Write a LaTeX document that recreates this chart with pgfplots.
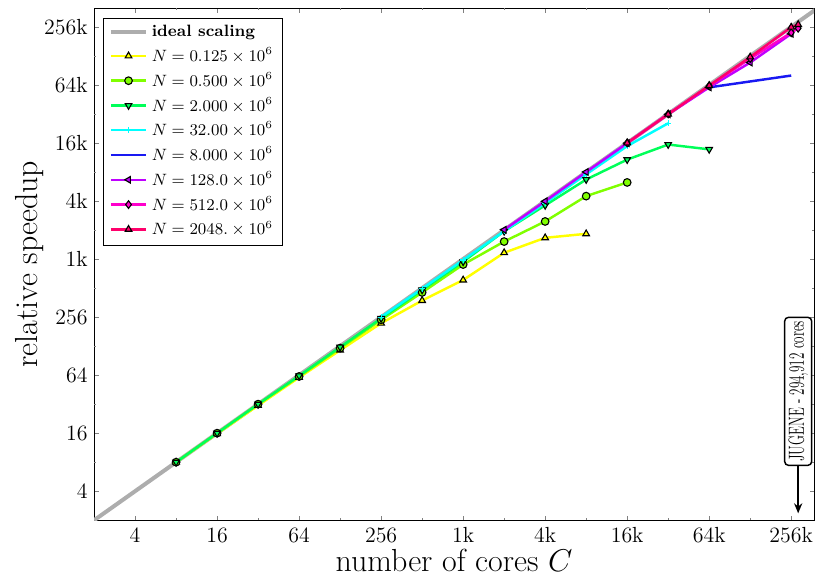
\documentclass[border=0pt]{standalone}
\usepackage{pgfplots}
\pgfplotsset{compat=1.18}
\usepackage{graphicx}
\usetikzlibrary{arrows.meta}

\definecolor{cideal}{gray}{0.68}
\definecolor{cA}{rgb}{1,1,0}
\definecolor{cB}{rgb}{0.5,1,0}
\definecolor{cC}{rgb}{0,1,0.35}
\definecolor{cD}{rgb}{0,1,1}
\definecolor{cE}{rgb}{0.1,0.1,0.95}
\definecolor{cF}{rgb}{0.75,0,1}
\definecolor{cG}{rgb}{1,0,0.8}
\definecolor{cH}{rgb}{1,0,0.42}

\begin{document}
\begin{tikzpicture}
\begin{axis}[
    scale only axis,
    width=395pt, height=281pt,
    xmode=log, ymode=log, log basis x=2, log basis y=2,
    xmin=2, xmax=386000, ymin=2, ymax=411000,
    xtick={4,16,64,256,1024,4096,16384,65536,262144},
    xticklabels={4,16,64,256,1k,4k,16k,64k,256k},
    extra x ticks={8,32,128,512,2048,8192,32768,131072},
    extra x tick labels={},
    extra x tick style={major tick length=1.3pt},
    ytick={4,16,64,256,1024,4096,16384,65536,262144},
    yticklabels={4,16,64,256,1k,4k,16k,64k,256k},
    extra y ticks={8,32,128,512,2048,8192,32768,131072},
    extra y tick labels={},
    extra y tick style={major tick length=1.3pt},
    major tick length=2.5pt,
    xtick pos=both, ytick pos=both,
    tick label style={font=\large},
    xticklabel style={inner ysep=1.2pt, yshift=-2.6pt},
    xlabel={number of cores $C$},
    ylabel={relative speedup},
    label style={font=\fontsize{17.5}{21}\selectfont, inner sep=0pt},
    xlabel style={at={(axis description cs:0.5,0)}, anchor=center, yshift=-22pt},
    ylabel style={at={(axis description cs:0,0.5)}, anchor=center, yshift=35.5pt},
    legend style={at={(0.0125,0.981)}, anchor=north west, font=\small,
        draw=black, row sep=0.4pt},
    legend cell align=left,
    legend image code/.code={\draw[mark repeat=2,mark phase=2]
        plot coordinates {(0cm,0cm) (0.34cm,0cm) (0.68cm,0cm)};},
    every axis plot/.append style={line width=1.35pt},
    mark size=2.1pt,
]

% ideal scaling
\addplot[cideal, line width=2.2pt] coordinates {(2,2) (411000,411000)};
\addlegendentry{\textbf{ideal scaling}}

% N = 0.125e6
\addplot[cA, mark=triangle*, mark options={fill=cA, draw=black, line width=0.6pt}] coordinates {
(8,8) (16,15.8) (32,31) (64,60.5) (128,116) (256,221) (512,380)
(1024,620) (2048,1190) (4096,1700) (8192,1870)};
\addlegendentry{$N=0.125\times10^6$}

% N = 0.500e6
\addplot[cB, mark=*, mark options={fill=cB, draw=black, line width=0.6pt}] coordinates {
(8,8) (16,16) (32,32) (64,62) (128,122) (256,240) (512,461)
(1024,898) (2048,1554) (4096,2512) (8192,4600) (16384,6380)};
\addlegendentry{$N=0.500\times10^6$}

% N = 2.000e6
\addplot[cC, mark=triangle*, mark options={rotate=180, fill=cC, draw=black, line width=0.6pt}] coordinates {
(8,8) (16,16) (32,32) (64,63) (128,125) (256,248) (512,490)
(1024,960) (2048,1990) (4096,3690) (8192,6840) (16384,11000)
(32768,15770) (65536,14060)};
\addlegendentry{$N=2.000\times10^6$}

% N = 32.00e6
\addplot[cD, mark=+, mark size=1.6pt, mark options={line width=0.6pt}] coordinates {
(256,256) (512,505) (1024,1000) (2048,1990) (4096,3900) (8192,7750)
(16384,15200) (32768,26200)};
\addlegendentry{$N=32.00\times10^6$}

% N = 8.000e6
\addplot[cE] coordinates {(65536,61800) (262144,81900)};
\addlegendentry{$N=8.000\times10^6$}

% N = 128.0e6
\addplot[cF, mark=triangle*, mark options={rotate=90, fill=cF, draw=black, line width=0.6pt}] coordinates {
(2048,2060) (4096,4070) (8192,8190) (16384,16300) (32768,32500)
(65536,61800) (131072,111800) (262144,222000)};
\addlegendentry{$N=128.0\times10^6$}

% N = 512.0e6
\addplot[cG, mark=diamond*, mark options={fill=cG, draw=black, line width=0.6pt}] coordinates {
(16384,16384) (32768,32700) (65536,64000) (131072,123000)
(262144,228000) (294912,253500)};
\addlegendentry{$N=512.0\times10^6$}

% N = 2048e6
\addplot[cH, mark=triangle*, mark options={fill=cH, draw=black, line width=0.6pt}] coordinates {
(16384,16400) (32768,32500) (65536,64500) (131072,127600)
(262144,260000) (294912,277000)};
\addlegendentry{$N=2048.\times10^6$}

% JUGENE marker
\draw[-{Stealth[length=5.5pt,width=4.5pt]}, line width=1.1pt]
    (axis cs:294912,7.3) -- (axis cs:294912,2.36);
\node[draw, rounded corners=2pt, fill=white, line width=0.8pt, rotate=90,
      anchor=west, inner sep=2pt, font=\large]
    at (axis cs:294912,7.3) {\scalebox{0.6}[1]{JUGENE - 294,912 cores}};

\end{axis}
\pgfresetboundingbox
\path[use as bounding box]
    ([xshift=-51.6pt,yshift=-30.5pt]current axis.south west)
    rectangle ([xshift=0.5pt,yshift=4.4pt]current axis.north east);
\end{tikzpicture}
\end{document}
